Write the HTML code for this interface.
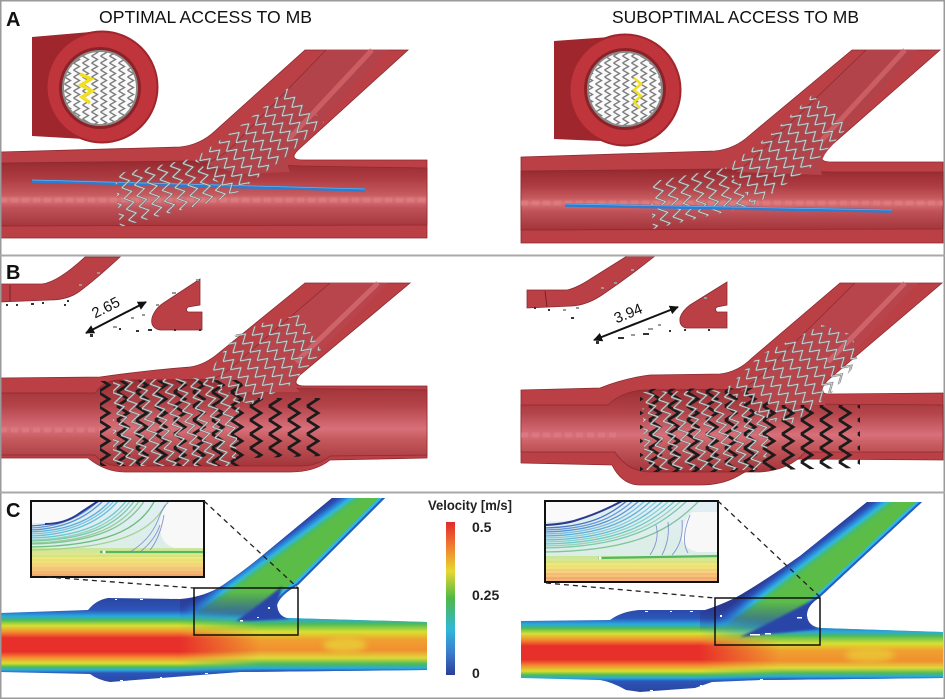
<!DOCTYPE html>
<html><head><meta charset="utf-8"><style>
html,body{margin:0;padding:0;background:#fff;}
svg{display:block;}
</style></head><body>
<svg width="945" height="699" viewBox="0 0 945 699" xmlns="http://www.w3.org/2000/svg" font-family="Liberation Sans, sans-serif">
<defs>
  <pattern id="pg1" patternUnits="userSpaceOnUse" width="13" height="11" patternTransform="rotate(-12)">
    <path d="M2,0 L11,5.5 L2,11" fill="none" stroke="#6e6e6e" stroke-width="2.1"/>
    <path d="M2,0 L11,5.5 L2,11" fill="none" stroke="#e6e6e6" stroke-width="0.8"/>
  </pattern>
  <pattern id="pg2" patternUnits="userSpaceOnUse" width="13" height="11" patternTransform="rotate(-42)">
    <path d="M2,0 L11,5.5 L2,11" fill="none" stroke="#6e6e6e" stroke-width="2.1"/>
    <path d="M2,0 L11,5.5 L2,11" fill="none" stroke="#e6e6e6" stroke-width="0.8"/>
  </pattern>
  <pattern id="pb" patternUnits="userSpaceOnUse" width="19" height="14">
    <path d="M3,0 L14,7 L3,14" fill="none" stroke="#1b1b1b" stroke-width="2.8"/>
  </pattern>
  <pattern id="pc" patternUnits="userSpaceOnUse" width="9" height="7">
    <rect width="9" height="7" fill="#fafafa"/>
    <path d="M1.5,0 L7.5,3.5 L1.5,7" fill="none" stroke="#7e7e7e" stroke-width="1.4"/>
  </pattern>

  <linearGradient id="lumA" gradientUnits="userSpaceOnUse" x1="0" y1="162" x2="0" y2="227">
    <stop offset="0" stop-color="#982b31"/><stop offset="0.25" stop-color="#ad3c42"/>
    <stop offset="0.5" stop-color="#c65a5e"/><stop offset="0.58" stop-color="#d97578"/>
    <stop offset="0.7" stop-color="#c0525a"/><stop offset="1" stop-color="#a2343a"/>
  </linearGradient>
  <linearGradient id="lumAR" gradientUnits="userSpaceOnUse" x1="0" y1="171" x2="0" y2="230">
    <stop offset="0" stop-color="#982b31"/><stop offset="0.25" stop-color="#ad3c42"/>
    <stop offset="0.46" stop-color="#c65a5e"/><stop offset="0.54" stop-color="#d97578"/>
    <stop offset="0.68" stop-color="#c0525a"/><stop offset="1" stop-color="#a2343a"/>
  </linearGradient>
  <linearGradient id="lumB" gradientUnits="userSpaceOnUse" x1="0" y1="380" x2="0" y2="466">
    <stop offset="0" stop-color="#9a2d33"/><stop offset="0.3" stop-color="#b4444a"/>
    <stop offset="0.57" stop-color="#d8707a"/><stop offset="0.68" stop-color="#c65a5e"/>
    <stop offset="1" stop-color="#a3353b"/>
  </linearGradient>
  <linearGradient id="lumBR" gradientUnits="userSpaceOnUse" x1="0" y1="388" x2="0" y2="472">
    <stop offset="0" stop-color="#9a2d33"/><stop offset="0.3" stop-color="#b4444a"/>
    <stop offset="0.56" stop-color="#d8707a"/><stop offset="0.68" stop-color="#c65a5e"/>
    <stop offset="1" stop-color="#a3353b"/>
  </linearGradient>

  <!-- flow gradients -->
  <linearGradient id="flL" gradientUnits="userSpaceOnUse" x1="0" y1="597" x2="0" y2="684">
    <stop offset="0" stop-color="#2a45a0"/><stop offset="0.15" stop-color="#2c55b8"/>
    <stop offset="0.22" stop-color="#2aa8e0"/><stop offset="0.265" stop-color="#4cbb58"/>
    <stop offset="0.33" stop-color="#d8e030"/><stop offset="0.40" stop-color="#f29030"/>
    <stop offset="0.47" stop-color="#e8302a"/><stop offset="0.63" stop-color="#e8302a"/>
    <stop offset="0.70" stop-color="#f29030"/><stop offset="0.76" stop-color="#d8e030"/>
    <stop offset="0.805" stop-color="#4cbb58"/><stop offset="0.84" stop-color="#2aa8e0"/>
    <stop offset="0.875" stop-color="#2c55b8"/><stop offset="1" stop-color="#2a45a0"/>
  </linearGradient>
  <linearGradient id="flLlow" gradientUnits="userSpaceOnUse" x1="0" y1="597" x2="0" y2="684">
    <stop offset="0" stop-color="#2a45a0"/><stop offset="0.195" stop-color="#2c55b8"/>
    <stop offset="0.25" stop-color="#2aa8e0"/><stop offset="0.31" stop-color="#4cbb58"/>
    <stop offset="0.40" stop-color="#d8e030"/><stop offset="0.49" stop-color="#f0a030"/>
    <stop offset="0.61" stop-color="#f09030"/><stop offset="0.70" stop-color="#e0d838"/>
    <stop offset="0.77" stop-color="#4cbb58"/><stop offset="0.82" stop-color="#2aa8e0"/>
    <stop offset="0.85" stop-color="#2c55b8"/><stop offset="1" stop-color="#2a45a0"/>
  </linearGradient>
  <linearGradient id="flR" gradientUnits="userSpaceOnUse" x1="0" y1="605" x2="0" y2="692">
    <stop offset="0" stop-color="#2a45a0"/><stop offset="0.15" stop-color="#2c55b8"/>
    <stop offset="0.22" stop-color="#2aa8e0"/><stop offset="0.265" stop-color="#4cbb58"/>
    <stop offset="0.33" stop-color="#d8e030"/><stop offset="0.40" stop-color="#f29030"/>
    <stop offset="0.47" stop-color="#e8302a"/><stop offset="0.63" stop-color="#e8302a"/>
    <stop offset="0.70" stop-color="#f29030"/><stop offset="0.76" stop-color="#d8e030"/>
    <stop offset="0.805" stop-color="#4cbb58"/><stop offset="0.84" stop-color="#2aa8e0"/>
    <stop offset="0.875" stop-color="#2c55b8"/><stop offset="1" stop-color="#2a45a0"/>
  </linearGradient>
  <linearGradient id="flRlow" gradientUnits="userSpaceOnUse" x1="0" y1="607" x2="0" y2="694">
    <stop offset="0" stop-color="#2a45a0"/><stop offset="0.195" stop-color="#2c55b8"/>
    <stop offset="0.285" stop-color="#2aa8e0"/><stop offset="0.33" stop-color="#4cbb58"/>
    <stop offset="0.42" stop-color="#d8e030"/><stop offset="0.50" stop-color="#f0a030"/>
    <stop offset="0.62" stop-color="#f09030"/><stop offset="0.70" stop-color="#e0d838"/>
    <stop offset="0.76" stop-color="#4cbb58"/><stop offset="0.80" stop-color="#2aa8e0"/>
    <stop offset="0.83" stop-color="#2c55b8"/><stop offset="1" stop-color="#2a45a0"/>
  </linearGradient>
  <linearGradient id="brL" gradientUnits="userSpaceOnUse" x1="332" y1="498" x2="359" y2="535">
    <stop offset="0" stop-color="#2a3a92"/><stop offset="0.1" stop-color="#2c52b8"/>
    <stop offset="0.18" stop-color="#2a88d8"/><stop offset="0.25" stop-color="#30b8e0"/>
    <stop offset="0.33" stop-color="#4cbb60"/><stop offset="0.42" stop-color="#5cbc48"/>
    <stop offset="1" stop-color="#5cbc48"/>
  </linearGradient>
  <linearGradient id="brR" gradientUnits="userSpaceOnUse" x1="867" y1="502" x2="895" y2="539">
    <stop offset="0" stop-color="#2a3a92"/><stop offset="0.1" stop-color="#2c52b8"/>
    <stop offset="0.18" stop-color="#2a88d8"/><stop offset="0.25" stop-color="#30b8e0"/>
    <stop offset="0.33" stop-color="#4cbb60"/><stop offset="0.42" stop-color="#5cbc48"/>
    <stop offset="1" stop-color="#5cbc48"/>
  </linearGradient>
  <linearGradient id="cbar" x1="0" y1="0" x2="0" y2="1">
    <stop offset="0" stop-color="#e02a2a"/><stop offset="0.15" stop-color="#f07830"/>
    <stop offset="0.32" stop-color="#e8d830"/><stop offset="0.5" stop-color="#50b848"/>
    <stop offset="0.7" stop-color="#30b8d8"/><stop offset="0.85" stop-color="#3a7ed0"/>
    <stop offset="1" stop-color="#2c3e98"/>
  </linearGradient>
  <linearGradient id="fadeH_L" gradientUnits="userSpaceOnUse" x1="180" y1="0" x2="260" y2="0">
    <stop offset="0" stop-color="#000"/><stop offset="1" stop-color="#fff"/>
  </linearGradient>
  <linearGradient id="fadeH_R" gradientUnits="userSpaceOnUse" x1="700" y1="0" x2="780" y2="0">
    <stop offset="0" stop-color="#000"/><stop offset="1" stop-color="#fff"/>
  </linearGradient>
  <linearGradient id="fadeV_L" gradientUnits="userSpaceOnUse" x1="0" y1="592" x2="0" y2="620">
    <stop offset="0" stop-color="#fff"/><stop offset="1" stop-color="#000"/>
  </linearGradient>
  <linearGradient id="fadeV_R" gradientUnits="userSpaceOnUse" x1="0" y1="602" x2="0" y2="632">
    <stop offset="0" stop-color="#fff"/><stop offset="1" stop-color="#000"/>
  </linearGradient>
  <mask id="mHL" maskUnits="userSpaceOnUse" x="0" y="490" width="470" height="209"><rect x="0" y="490" width="470" height="209" fill="url(#fadeH_L)"/></mask>
  <mask id="mHR" maskUnits="userSpaceOnUse" x="500" y="490" width="445" height="209"><rect x="500" y="490" width="445" height="209" fill="url(#fadeH_R)"/></mask>
  <mask id="mVL" maskUnits="userSpaceOnUse" x="0" y="490" width="470" height="209"><rect x="0" y="490" width="470" height="209" fill="url(#fadeV_L)"/></mask>
  <mask id="mVR" maskUnits="userSpaceOnUse" x="500" y="490" width="445" height="209"><rect x="500" y="490" width="445" height="209" fill="url(#fadeV_R)"/></mask>

  <clipPath id="cFL"><path d="M0,613 L88,610 Q96,600 108,598 L180,599 Q205,597 223,585 Q245,570 263,555 L332,498 L385,498 L298,585 Q280,595 277,605 Q278,616 287,618 L427,622 L427,670 L240,672 L200,675 L110,682 Q98,680 90,674 L0,672 Z"/></clipPath>
  <clipPath id="cFR"><path d="M521,621 L610,620 Q622,611 640,610 L705,610 Q718,606 735,598 Q760,584 800,556 L867,502 L922,502 L820,597 Q806,606 807,616 Q808,626 820,628 L943,632 L943,678 L760,680 L712,682 L695,688 L640,692 L626,690 Q612,682 600,680 L521,678 Z"/></clipPath>
  <clipPath id="cIL"><rect x="30" y="500" width="174" height="77"/></clipPath>
  <clipPath id="cIR"><rect x="544" y="500" width="174" height="82"/></clipPath>

  <linearGradient id="insBand" x1="0" y1="0" x2="0" y2="1">
    <stop offset="0" stop-color="#c8e6a0"/><stop offset="0.35" stop-color="#eee880"/>
    <stop offset="0.65" stop-color="#f5d080"/><stop offset="1" stop-color="#f2ac70"/>
  </linearGradient>
  <linearGradient id="insTop" x1="0" y1="0" x2="0" y2="1">
    <stop offset="0" stop-color="#e2eef6"/><stop offset="1" stop-color="#d8eede"/>
  </linearGradient>
  <filter id="blr" x="-20%" y="-50%" width="140%" height="200%"><feGaussianBlur stdDeviation="3"/></filter>
  <filter id="blr1"><feGaussianBlur stdDeviation="1"/></filter>
  <marker id="ah" viewBox="0 0 10 10" refX="9" refY="5" markerWidth="9" markerHeight="9" markerUnits="userSpaceOnUse" orient="auto-start-reverse">
    <path d="M0,0 L10,5 L0,10 Z" fill="#111"/>
  </marker>
</defs>

<rect width="945" height="699" fill="#fff"/>

<!-- ================= PANEL A ================= -->
<text x="6" y="26" font-family="Liberation Sans Narrow, Liberation Sans, sans-serif" font-weight="bold" font-size="20" fill="#111">A</text>
<text x="99" y="23" font-size="17.5" fill="#111" textLength="213" lengthAdjust="spacingAndGlyphs">OPTIMAL ACCESS TO MB</text>
<text x="612" y="23" font-size="17.5" fill="#111" textLength="247" lengthAdjust="spacingAndGlyphs">SUBOPTIMAL ACCESS TO MB</text>

<!-- A left vessel -->
<path d="M0,152 L180,147 Q200,145 215,131 L305,50 L408,50 L298,150 Q288,160 303,160 L427,160 L427,238 L0,238 Z" fill="#bb4046" stroke="#8a2a30" stroke-width="0.8"/>
<path d="M0,163 L190,161 L300,166 L427,168 L427,225 L0,226 Z" fill="url(#lumA)" stroke="#8a2a30" stroke-width="0.7"/>
<path d="M205,164 Q220,158 232,147 L326,50 L388,50 L292,152 Q285,162 290,172 L240,174 Z" fill="#b3434a"/>
<path d="M326,50 L232,147 Q220,158 205,164" fill="none" stroke="#8a2a30" stroke-width="0.7"/>
<line x1="372" y1="50" x2="288" y2="140" stroke="#d66a6e" stroke-width="5" opacity="0.7"/>
<line x1="0" y1="200" x2="427" y2="200" stroke="#e08286" stroke-width="5" stroke-dasharray="7 4" opacity="0.55"/>
<line x1="32" y1="181" x2="365" y2="190" stroke="#2c7cd0" stroke-width="3.6"/>
<line x1="32" y1="180" x2="365" y2="189" stroke="#6cb0ea" stroke-width="0.8"/>
<path d="M115,174 L195,158 L232,196 L120,227 Z" fill="url(#pg1)"/>
<path d="M195,158 L240,126 L288,88 L324,122 L282,160 L232,196 Z" fill="url(#pg2)"/>

<!-- A left inset -->
<polygon points="32,37 102,31 102,140 32,136" fill="#9e262c"/>
<circle cx="102" cy="87" r="55.5" fill="#c0353b"/>
<circle cx="102" cy="87" r="55.5" fill="none" stroke="#9e262c" stroke-width="2"/>
<circle cx="100" cy="88" r="41" fill="#8c2228"/>
<circle cx="100" cy="88" r="37" fill="url(#pc)"/>
<circle cx="100" cy="88" r="37" fill="none" stroke="#8a8a8a" stroke-width="2"/>
<polyline points="80,74 91,79 81,85 92,91 82,97 90,103" fill="none" stroke="#f0e020" stroke-width="3.5"/>

<!-- A right vessel -->
<path d="M521,157 L715,151 Q735,149 750,135 L852,50 L940,50 L826,150 Q815,162 832,162 L943,162 L943,243 L521,243 Z" fill="#bb4046" stroke="#8a2a30" stroke-width="0.8"/>
<path d="M521,171 L720,169 L830,172 L943,172 L943,229 L521,230 Z" fill="url(#lumAR)" stroke="#8a2a30" stroke-width="0.7"/>
<path d="M735,172 Q748,165 760,152 L866,50 L918,50 L828,150 Q818,162 822,175 Z" fill="#b3434a"/>
<path d="M866,50 L760,152 Q748,165 735,172" fill="none" stroke="#8a2a30" stroke-width="0.7"/>
<line x1="905" y1="50" x2="822" y2="140" stroke="#d66a6e" stroke-width="5" opacity="0.7"/>
<line x1="521" y1="203" x2="943" y2="203" stroke="#e08286" stroke-width="5" stroke-dasharray="7 4" opacity="0.55"/>
<path d="M650,182 L725,168 L755,205 L653,229 Z" fill="url(#pg1)"/>
<path d="M725,168 L770,135 L812,95 L850,125 L810,168 L755,205 Z" fill="url(#pg2)"/>
<line x1="565" y1="205" x2="892" y2="211" stroke="#2c7cd0" stroke-width="3.6"/>
<line x1="565" y1="204" x2="892" y2="210" stroke="#6cb0ea" stroke-width="0.8"/>

<!-- A right inset -->
<polygon points="554,41 624,36 624,142 554,139" fill="#9e262c"/>
<circle cx="625" cy="90" r="55.5" fill="#c0353b"/>
<circle cx="625" cy="90" r="55.5" fill="none" stroke="#9e262c" stroke-width="2"/>
<circle cx="625" cy="89" r="41" fill="#8c2228"/>
<circle cx="625" cy="89" r="37" fill="url(#pc)"/>
<circle cx="625" cy="89" r="37" fill="none" stroke="#8a8a8a" stroke-width="2"/>
<polyline points="634,78 641,84 634,90 641,96 634,102 640,108" fill="none" stroke="#f0e020" stroke-width="2.5"/>

<!-- ================= PANEL B ================= -->
<text x="6" y="279" font-family="Liberation Sans Narrow, Liberation Sans, sans-serif" font-weight="bold" font-size="20" fill="#111">B</text>

<!-- B left inset cross-section -->
<path d="M0,284 L42,284 Q58,282 85,257 L120,257 Q95,280 80,291 Q68,300 50,300 L0,302 Z" fill="#bb4046" stroke="#8a2a30" stroke-width="0.8"/>
<line x1="10" y1="285" x2="10" y2="301" stroke="#6a1a20" stroke-width="0.8"/>
<path d="M200,279 L200,305 L188,307 Q185,310 188,312 L202,312 L202,330 L160,330 Q150,328 152,318 Q155,308 165,302 Z" fill="#bb4046" stroke="#8a2a30" stroke-width="0.8"/>
<g fill="#333">
  <rect x="6" y="304" width="2" height="2"/><rect x="16" y="304" width="2" height="2"/><rect x="31" y="303" width="3" height="2"/>
  <rect x="42" y="302" width="2" height="2"/><rect x="64" y="304" width="2" height="2"/><rect x="67" y="300" width="2" height="2"/>
  <rect x="90" y="334" width="3" height="3"/><rect x="119" y="328" width="2" height="2"/><rect x="136" y="330" width="3" height="2"/>
  <rect x="148" y="329" width="4" height="2"/><rect x="174" y="329" width="2" height="2"/><rect x="199" y="329" width="2" height="2"/>
</g>
<g fill="#999">
  <rect x="113" y="326" width="4" height="2"/><rect x="131" y="317" width="3" height="2"/><rect x="142" y="314" width="3" height="2"/>
  <rect x="156" y="304" width="3" height="2"/><rect x="172" y="292" width="4" height="2"/><rect x="196" y="279" width="3" height="2"/>
  <rect x="97" y="272" width="3" height="2"/><rect x="79" y="284" width="3" height="2"/>
</g>
<line x1="86" y1="333" x2="146" y2="302" stroke="#111" stroke-width="2" marker-start="url(#ah)" marker-end="url(#ah)"/>
<text x="0" y="0" font-size="15" fill="#111" text-anchor="middle" transform="translate(108,312) rotate(-27)">2.65</text>

<!-- B left vessel -->
<path d="M0,378 L100,377 Q150,370 190,367 Q205,365 220,352 L305,283 L410,283 L300,375 Q290,386 305,386 L427,386 L427,458 L330,460 Q315,472 290,472 L125,472 Q105,472 88,458 L0,458 Z" fill="#bb4046" stroke="#8a2a30" stroke-width="0.8"/>
<path d="M0,393 L95,393 Q103,381 118,380 L240,379 L250,388 L427,390 L427,455 L330,456 Q318,466 300,466 L120,466 Q104,466 95,455 L0,455 Z" fill="url(#lumB)" stroke="#8a2a30" stroke-width="0.7"/>
<path d="M212,380 Q228,372 240,360 L330,283 L388,283 L300,372 Q290,385 300,392 L240,392 Z" fill="#b8454b"/>
<path d="M330,283 L240,360 Q228,372 212,380" fill="none" stroke="#8a2a30" stroke-width="0.7"/>
<line x1="378" y1="283" x2="296" y2="362" stroke="#d8707a" stroke-width="5" opacity="0.7"/>
<line x1="0" y1="430" x2="100" y2="430" stroke="#e08286" stroke-width="5" stroke-dasharray="7 4" opacity="0.55"/>
<path d="M100,381 L240,380 L250,398 L325,398 L325,456 L250,458 L240,466 L100,466 Z" fill="url(#pb)"/>
<path d="M113,380 L205,378 L240,400 L235,466 L113,466 Z" fill="url(#pg1)"/>
<path d="M205,378 L235,335 L265,322 L300,315 L322,352 L290,385 L250,405 L240,400 Z" fill="url(#pg2)"/>

<!-- B right inset cross-section -->
<path d="M527,290 L567,290 Q577,288 592,278 L627,256 L655,256 Q630,276 602,295 Q587,305 572,306 L527,308 Z" fill="#bb4046" stroke="#8a2a30" stroke-width="0.8"/>
<line x1="545" y1="291" x2="547" y2="307" stroke="#6a1a20" stroke-width="0.8"/>
<path d="M727,282 L727,305 L717,307 Q714,309 717,312 L727,312 L727,328 L686,328 Q679,326 680,318 Q682,311 690,305 Z" fill="#bb4046" stroke="#8a2a30" stroke-width="0.8"/>
<g fill="#333">
  <rect x="548" y="309" width="2" height="2"/><rect x="571" y="317" width="3" height="2"/><rect x="596" y="341" width="3" height="3"/>
  <rect x="618" y="337" width="6" height="2"/><rect x="643" y="333" width="6" height="2"/><rect x="669" y="330" width="2" height="2"/>
  <rect x="684" y="329" width="2" height="2"/><rect x="708" y="329" width="2" height="2"/><rect x="534" y="307" width="2" height="2"/>
</g>
<g fill="#999">
  <rect x="563" y="309" width="3" height="2"/><rect x="576" y="307" width="3" height="2"/><rect x="631" y="334" width="4" height="2"/>
  <rect x="648" y="328" width="5" height="2"/><rect x="658" y="324" width="3" height="2"/><rect x="601" y="287" width="3" height="2"/>
  <rect x="614" y="282" width="3" height="2"/><rect x="631" y="269" width="3" height="2"/><rect x="704" y="297" width="3" height="2"/>
</g>
<line x1="594" y1="340" x2="678" y2="307" stroke="#111" stroke-width="2" marker-start="url(#ah)" marker-end="url(#ah)"/>
<text x="0" y="0" font-size="15" fill="#111" text-anchor="middle" transform="translate(630,318) rotate(-22)">3.94</text>

<!-- B right vessel -->
<path d="M521,390 L600,388 Q625,378 650,375 L720,374 Q738,372 752,358 L840,283 L942,283 L828,380 Q815,394 830,394 L943,393 L943,460 L800,459 Q762,461 738,476 Q722,485 700,485 L640,485 Q622,485 612,465 L521,463 Z" fill="#bb4046" stroke="#8a2a30" stroke-width="0.8"/>
<path d="M521,405 L608,405 Q622,391 645,390 L760,389 L800,404 L943,405 L943,452 L805,452 Q790,470 760,472 L650,472 Q628,472 615,452 L521,452 Z" fill="url(#lumBR)" stroke="#8a2a30" stroke-width="0.7"/>
<path d="M740,390 Q752,384 765,372 L855,283 L918,283 L828,378 Q816,392 826,405 L760,405 Z" fill="#b8454b"/>
<path d="M855,283 L765,372 Q752,384 740,390" fill="none" stroke="#8a2a30" stroke-width="0.7"/>
<line x1="905" y1="283" x2="828" y2="362" stroke="#d8707a" stroke-width="5" opacity="0.7"/>
<line x1="521" y1="435" x2="620" y2="435" stroke="#e08286" stroke-width="5" stroke-dasharray="7 4" opacity="0.55"/>
<path d="M640,389 L760,388 L770,405 L860,405 L860,468 L770,470 L760,472 L640,472 Z" fill="url(#pb)"/>
<path d="M642,392 L725,390 L770,420 L765,470 L645,470 Z" fill="url(#pg1)"/>
<path d="M725,390 L760,355 L822,325 L852,335 L858,362 L830,395 L790,425 L770,420 Z" fill="url(#pg2)"/>

<!-- ================= PANEL C ================= -->
<text x="6" y="517" font-family="Liberation Sans Narrow, Liberation Sans, sans-serif" font-weight="bold" font-size="20" fill="#111">C</text>

<!-- C left flow -->
<g clip-path="url(#cFL)">
  <rect x="0" y="495" width="430" height="190" fill="url(#flL)"/>
  <rect x="0" y="495" width="430" height="190" fill="url(#flLlow)" mask="url(#mHL)"/>
  <ellipse cx="345" cy="645" rx="22" ry="7" fill="#e8d838" opacity="0.7" filter="url(#blr)"/>
  <g mask="url(#mVL)">
    <path d="M180,600 Q205,597 223,585 Q245,570 263,555 L332,498 L385,498 L298,585 Q280,595 277,605 L260,624 L180,624 Z" fill="url(#brL)"/>
  </g>
  <path d="M385,498 L298,585 Q280,595 277,605" fill="none" stroke="#30b8e0" stroke-width="9"/>
  <path d="M385,498 L298,585 Q280,595 277,605" fill="none" stroke="#2c5cc0" stroke-width="4"/>
  <path d="M236,621 Q258,606 282,586 L277,606 Q279,616 290,619 L250,621 Z" fill="#2a45a8" filter="url(#blr1)"/>
</g>
<g fill="#fff">
  <rect x="115" y="599" width="2" height="1"/><rect x="140" y="599" width="3" height="1"/><rect x="170" y="598" width="2" height="1"/>
  <rect x="120" y="680" width="3" height="1"/><rect x="160" y="677" width="2" height="1"/><rect x="205" y="673" width="3" height="1"/>
  <rect x="268" y="607" width="2" height="2"/><rect x="257" y="617" width="2" height="1"/><rect x="240" y="620" width="3" height="1.5"/>
</g>

<!-- C left inset -->
<g clip-path="url(#cIL)">
  <rect x="30" y="500" width="174" height="77" fill="url(#insTop)"/>
  <rect x="30" y="548" width="174" height="29" fill="url(#insBand)"/>
  <g fill="none" stroke-width="1.3" opacity="0.9">
    <path d="M30,526 C60,525 80,514 95,500" stroke="#3a6cc0"/>
    <path d="M30,528 C63,527 84,515 99,500" stroke="#5a90d8"/>
    <path d="M30,530 C66,529 88,516 104,500" stroke="#4a8ad0"/>
    <path d="M30,532 C70,531 95,518 111,500" stroke="#50a8d8"/>
    <path d="M30,534 C72,533 98,519 115,500" stroke="#70c0e0"/>
    <path d="M30,536 C75,535 102,520 119,500" stroke="#58b8d8"/>
    <path d="M30,538 C82,537 110,522 127,500" stroke="#60c4c8"/>
    <path d="M30,540 C86,539 114,523 131,500" stroke="#88d0c0"/>
    <path d="M30,541 C90,540 118,524 135,500" stroke="#70c4a8"/>
    <path d="M30,543 C94,542 123,525 140,500" stroke="#90cc90"/>
    <path d="M30,544 C98,543 128,526 145,500" stroke="#78c090"/>
    <path d="M30,547 C105,546 140,530 155,500" stroke="#60b870"/>
    <path d="M30,550 C110,549 150,535 165,505" stroke="#a0d088"/>
    <path d="M100,552 L204,552" stroke="#48b458" stroke-width="2.2"/>
    <path d="M30,556 L204,556" stroke="#c8e070"/>
    <path d="M30,560 L204,560" stroke="#e4e060"/>
    <path d="M30,564 L204,564" stroke="#f0d870"/>
    <path d="M30,568 L204,568" stroke="#f0c070"/>
    <path d="M30,572 L204,572" stroke="#f2b070"/>
    <path d="M30,575 L204,575" stroke="#f0a060"/>
  </g>
  <path d="M30,500 L100,500 Q85,512 60,523 L30,523 Z" fill="#fafafa"/>
  <path d="M45,524 Q65,524 80,513 Q92,505 100,500" fill="none" stroke="#2b3a90" stroke-width="2"/>
  <path d="M204,500 L170,500 Q158,515 160,530 Q162,545 175,548 L204,548 Z" fill="#f8f8f8"/>
  <g fill="none" stroke="#6b7fc8" stroke-width="0.9" opacity="0.8">
    <path d="M130,552 Q150,540 158,520 Q162,508 170,500"/>
    <path d="M140,552 Q155,540 160,525"/>
    <path d="M150,550 Q160,538 164,515"/>
  </g>
  <circle cx="104" cy="552" r="1.5" fill="#fff"/>
</g>
<rect x="31" y="501" width="173" height="76" fill="none" stroke="#111" stroke-width="2"/>
<rect x="194" y="588" width="104" height="47" fill="none" stroke="#111" stroke-width="1.5"/>
<line x1="204" y1="501" x2="298" y2="588" stroke="#222" stroke-width="1.3" stroke-dasharray="5 4"/>
<line x1="47" y1="577" x2="194" y2="588" stroke="#222" stroke-width="1.3" stroke-dasharray="5 4"/>

<!-- colorbar -->
<text x="428" y="510" font-size="14" font-weight="bold" fill="#222" textLength="84" lengthAdjust="spacingAndGlyphs">Velocity [m/s]</text>
<rect x="446" y="522" width="9" height="153" fill="url(#cbar)"/>
<text x="472" y="532" font-size="14" font-weight="bold" fill="#222">0.5</text>
<text x="472" y="600" font-size="14" font-weight="bold" fill="#222">0.25</text>
<text x="472" y="678" font-size="14" font-weight="bold" fill="#222">0</text>

<!-- C right flow -->
<g clip-path="url(#cFR)">
  <rect x="515" y="495" width="430" height="200" fill="url(#flR)"/>
  <rect x="515" y="495" width="430" height="200" fill="url(#flRlow)" mask="url(#mHR)"/>
  <ellipse cx="870" cy="655" rx="25" ry="7" fill="#e8d838" opacity="0.6" filter="url(#blr)"/>
  <g mask="url(#mVR)">
    <path d="M700,612 Q720,605 735,598 Q760,584 800,556 L867,502 L922,502 L820,597 Q806,606 807,616 L790,634 L700,634 Z" fill="url(#brR)"/>
  </g>
  <path d="M922,502 L820,597 Q806,606 807,616" fill="none" stroke="#30b8e0" stroke-width="9"/>
  <path d="M922,502 L820,597 Q806,606 807,616" fill="none" stroke="#2c5cc0" stroke-width="4"/>
  <path d="M740,637 Q772,622 820,596 L807,616 Q810,628 822,629 L760,635 Z" fill="#2a45a8" filter="url(#blr1)"/>
</g>
<g fill="#fff">
  <rect x="645" y="611" width="3" height="1"/><rect x="670" y="611" width="2" height="1"/><rect x="690" y="611" width="3" height="1"/>
  <rect x="650" y="690" width="3" height="1"/><rect x="700" y="685" width="2" height="1"/><rect x="760" y="679" width="3" height="1"/>
  <rect x="750" y="634" width="10" height="1.5"/><rect x="765" y="633" width="6" height="1.5"/><rect x="797" y="617" width="5" height="1.5"/>
  <rect x="720" y="615" width="2" height="2"/>
</g>

<!-- C right inset -->
<g clip-path="url(#cIR)">
  <rect x="544" y="500" width="174" height="82" fill="url(#insTop)"/>
  <rect x="544" y="556" width="174" height="26" fill="url(#insBand)"/>
  <g fill="none" stroke-width="1.3" opacity="0.9">
    <path d="M544,528 C590,527 610,515 628,500" stroke="#3a6cc0"/>
    <path d="M544,530 C595,529 616,516 634,500" stroke="#5a90d8"/>
    <path d="M544,532 C600,531 622,516 640,500" stroke="#4a8ad0"/>
    <path d="M544,534 C604,533 627,517 646,500" stroke="#70b8e0"/>
    <path d="M544,536 C608,535 632,518 652,500" stroke="#50a8d8"/>
    <path d="M544,538 C612,537 637,519 658,500" stroke="#80c8d8"/>
    <path d="M544,540 C615,539 642,520 664,500" stroke="#58b8d8"/>
    <path d="M544,542 C618,541 647,521 670,500" stroke="#80d0c0"/>
    <path d="M544,544 C622,543 652,522 676,500" stroke="#60c4c8"/>
    <path d="M544,546 C626,545 657,523 682,500" stroke="#90d0b0"/>
    <path d="M544,548 C630,547 662,524 688,500" stroke="#70c4a8"/>
    <path d="M544,552 C640,551 672,528 700,500" stroke="#78c090"/>
    <path d="M598,558 L718,556" stroke="#48b458" stroke-width="2.2"/>
    <path d="M544,562 L718,562" stroke="#d8e068"/>
    <path d="M544,566 L718,566" stroke="#f0e060"/>
    <path d="M544,570 L718,570" stroke="#f0c870"/>
    <path d="M544,574 L718,574" stroke="#f2b070"/>
    <path d="M544,578 L718,578" stroke="#f0a060"/>
  </g>
  <path d="M544,500 L622,500 Q600,515 577,520 L544,522 Z" fill="#fafafa"/>
  <path d="M546,525 Q565,524 577,520 Q600,513 622,501" fill="none" stroke="#2b3a90" stroke-width="2"/>
  <path d="M718,512 L692,512 Q680,525 682,540 Q688,552 700,552 L718,552 Z" fill="#f8f8f8"/>
  <g fill="none" stroke="#6b7fc8" stroke-width="0.9" opacity="0.8">
    <path d="M650,555 Q660,540 656,525"/>
    <path d="M662,555 Q670,540 668,522"/>
    <path d="M672,555 Q684,542 682,520"/>
    <path d="M688,553 Q680,540 690,515"/>
  </g>
  <circle cx="600" cy="558" r="1.5" fill="#fff"/>
</g>
<rect x="545" y="501" width="173" height="81" fill="none" stroke="#111" stroke-width="2"/>
<rect x="715" y="598" width="105" height="47" fill="none" stroke="#111" stroke-width="1.5"/>
<line x1="718" y1="501" x2="820" y2="597" stroke="#222" stroke-width="1.3" stroke-dasharray="5 4"/>
<line x1="546" y1="583" x2="715" y2="598" stroke="#222" stroke-width="1.3" stroke-dasharray="5 4"/>

<!-- frame -->
<rect x="0.75" y="0.75" width="943.5" height="697.5" fill="none" stroke="#9a9a9a" stroke-width="1.5"/>
<line x1="0" y1="255.5" x2="945" y2="255.5" stroke="#a8a8a8" stroke-width="2"/>
<line x1="0" y1="492.5" x2="945" y2="492.5" stroke="#a8a8a8" stroke-width="2"/>
</svg>
</body></html>
